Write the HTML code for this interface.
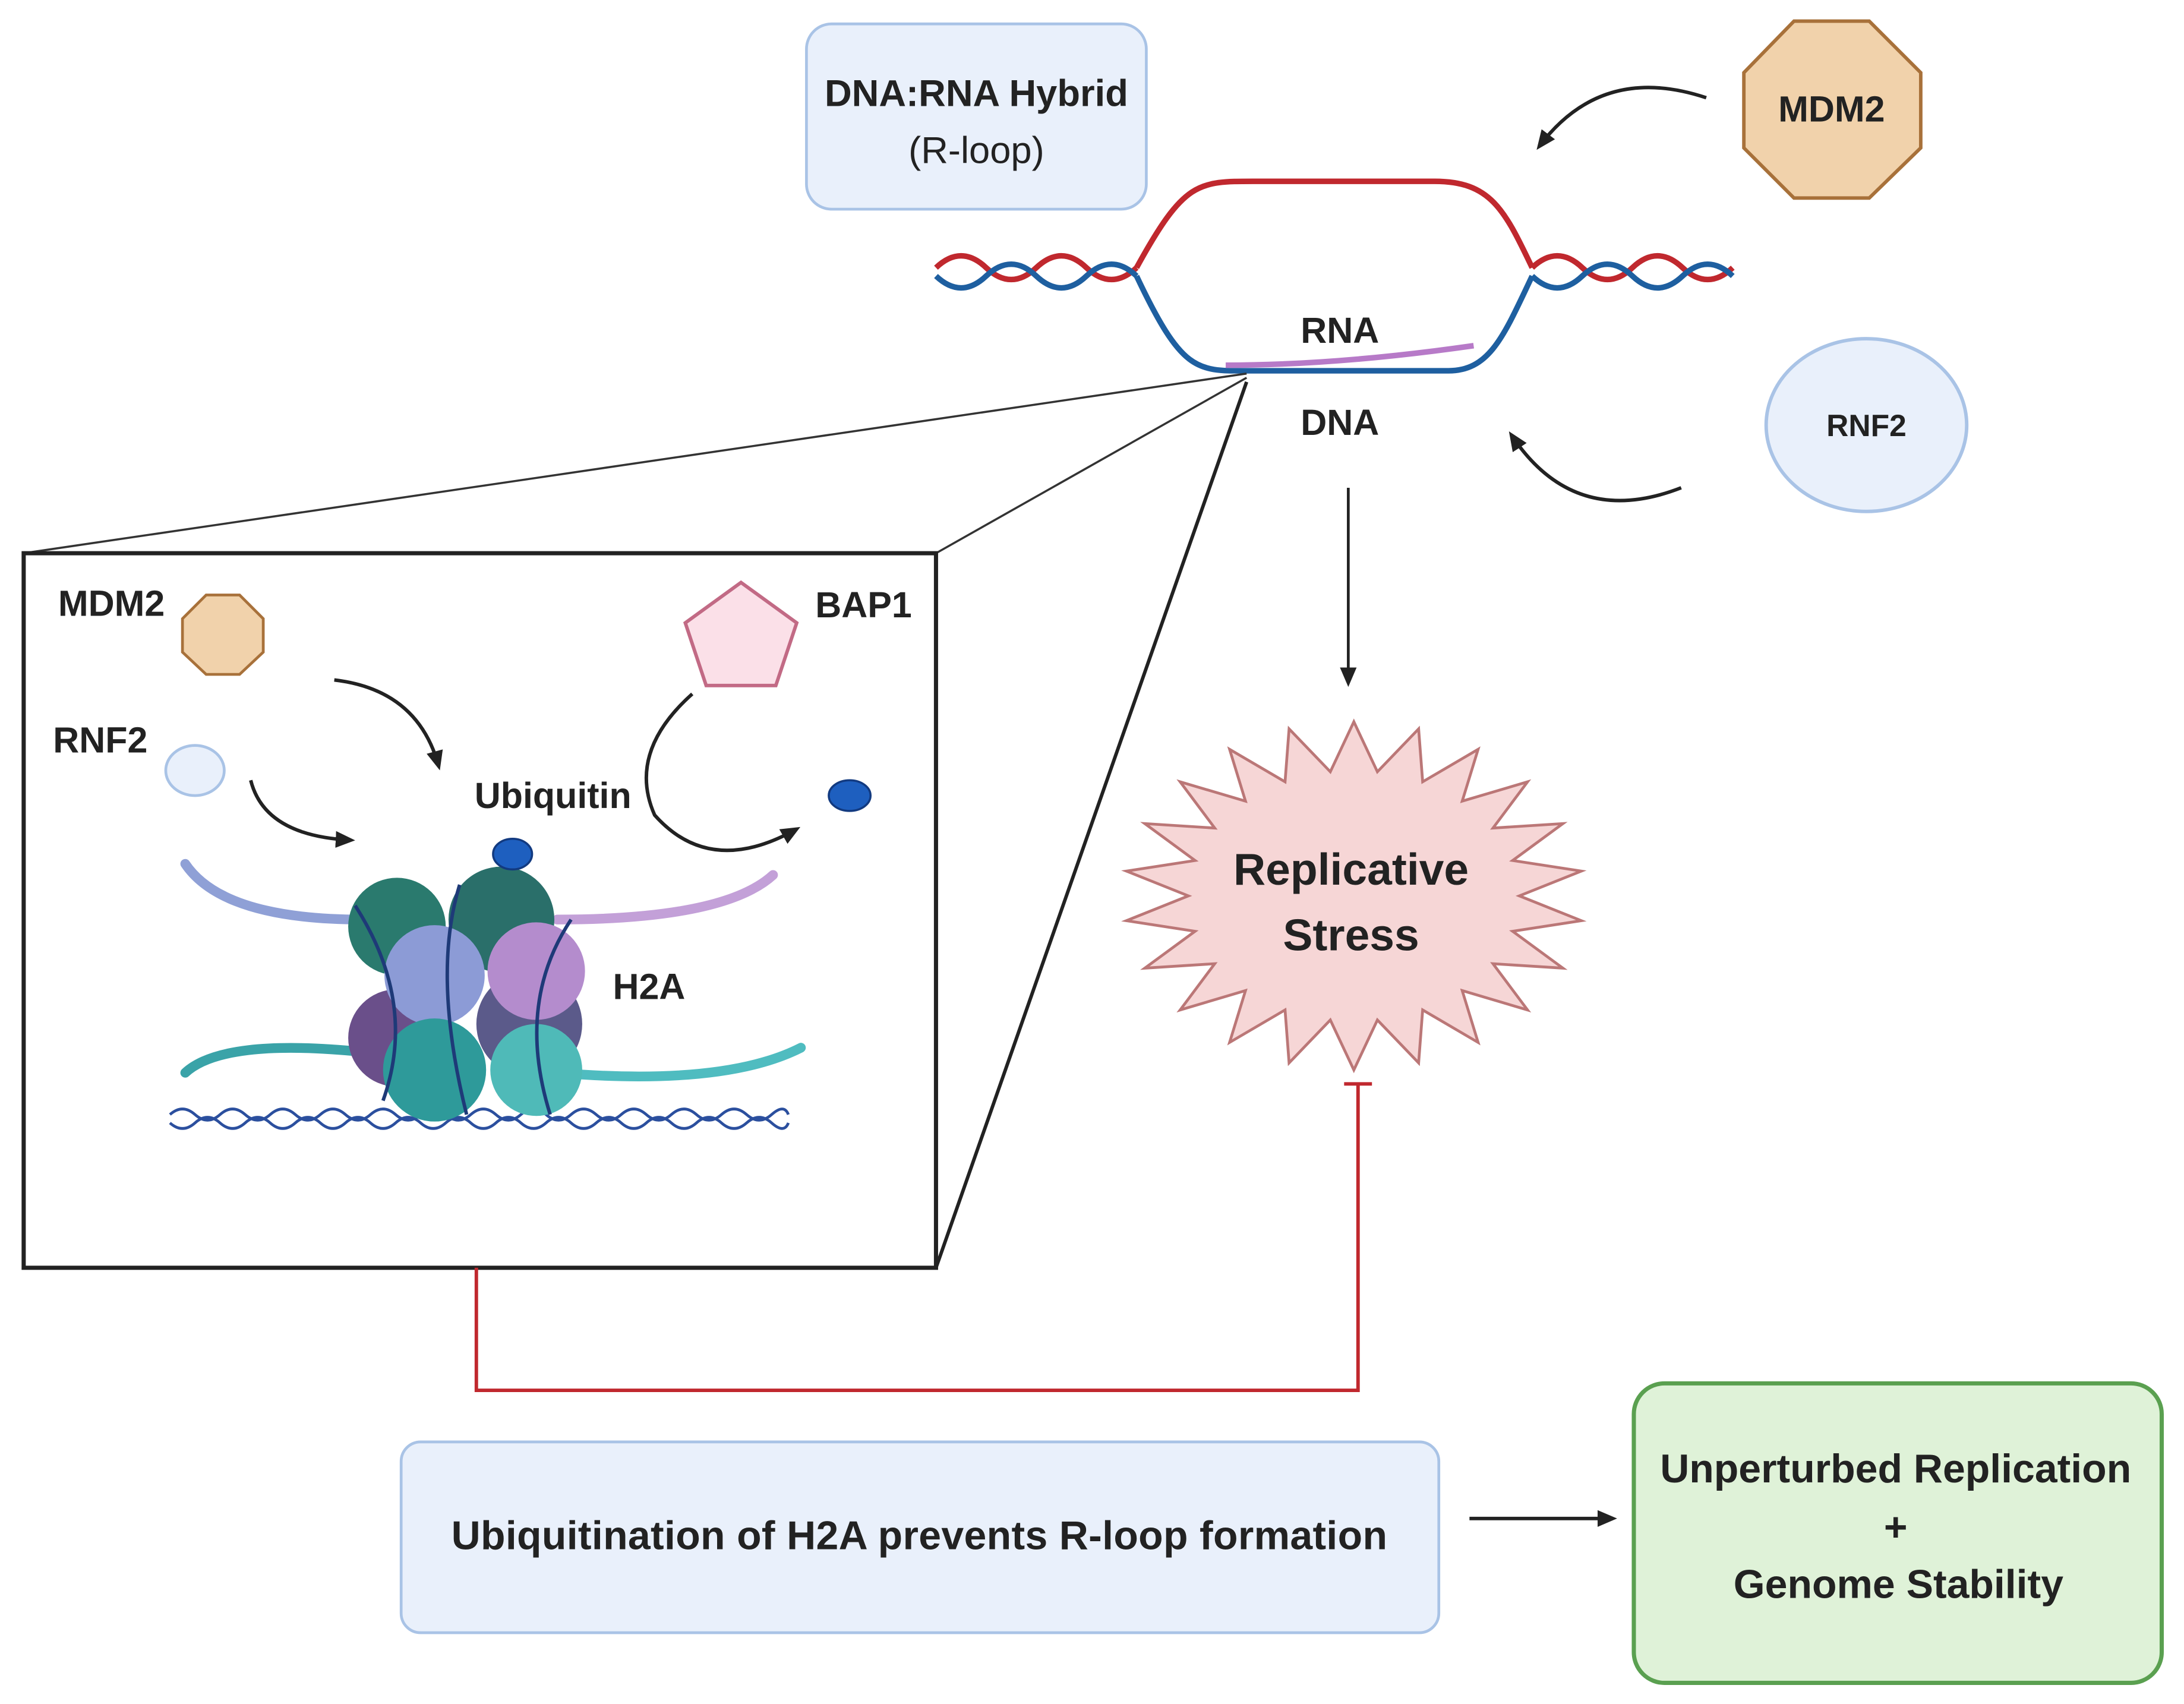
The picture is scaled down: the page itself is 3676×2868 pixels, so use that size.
<!DOCTYPE html>
<html><head><meta charset="utf-8"><style>html,body{margin:0;padding:0;background:#fff}svg{display:block}</style></head>
<body>
<svg width="3676" height="2868" viewBox="0 0 1568 1223" xmlns="http://www.w3.org/2000/svg" font-family="Liberation Sans, sans-serif" font-weight="bold">
<defs>
<marker id="ah" markerWidth="14" markerHeight="14" refX="11" refY="7" orient="auto" markerUnits="userSpaceOnUse"><path d="M0,1 L14,7 L0,13 z" fill="#222"/></marker>
</defs>
<rect width="1568" height="1223" fill="#fff"/>
<rect x="579" y="17" width="244" height="133" rx="18" fill="#e9f0fb" stroke="#a9c3e6" stroke-width="2"/>
<text x="701" y="76" font-size="27" text-anchor="middle" fill="#222">DNA:RNA Hybrid</text>
<text x="701" y="117" font-size="27" text-anchor="middle" fill="#222" font-weight="normal">(R-loop)</text>
<polygon points="1288,15 1342,15 1379,52 1379,106 1342,142 1288,142 1252,106 1252,52" fill="#f1d2ab" stroke="#a8713a" stroke-width="2.5"/>
<text x="1315" y="87" font-size="26" text-anchor="middle" fill="#222">MDM2</text>
<path d="M1225,70 Q1150,45 1105,105" fill="none" stroke="#222" stroke-width="2.5" marker-end="url(#ah)"/>
<path d="M672,192 Q690,175 708,192 T744,192 T780,192 T816,192" fill="none" stroke="#c0282e" stroke-width="4"/>
<path d="M672,198 Q690,215 708,198 T744,198 T780,198 T816,198" fill="none" stroke="#1e5fa0" stroke-width="4"/>
<path d="M1100,192 Q1118,175 1136,192 T1172,192 T1208,192 T1244,192" fill="none" stroke="#c0282e" stroke-width="4"/>
<path d="M1100,198 Q1118,215 1136,198 T1172,198 T1208,198 T1244,198" fill="none" stroke="#1e5fa0" stroke-width="4"/>
<path d="M816,192 C850,130 860,130 900,130 L1030,130 C1070,130 1080,150 1100,192" fill="none" stroke="#c0282e" stroke-width="4"/>
<path d="M816,198 C850,270 860,266 900,266 L1040,266 C1070,266 1080,240 1100,198" fill="none" stroke="#1e5fa0" stroke-width="4"/>
<path d="M880,262 Q960,262 1058,248" fill="none" stroke="#b77ac8" stroke-width="4"/>
<text x="962" y="246" font-size="26" text-anchor="middle" fill="#222">RNA</text>
<text x="962" y="312" font-size="26" text-anchor="middle" fill="#222">DNA</text>
<ellipse cx="1340" cy="305" rx="72" ry="62" fill="#e9f0fb" stroke="#a9c3e6" stroke-width="2.5"/>
<text x="1340" y="313" font-size="22" text-anchor="middle" fill="#222">RNF2</text>
<path d="M1207,350 Q1130,380 1085,312" fill="none" stroke="#222" stroke-width="2.5" marker-end="url(#ah)"/>
<line x1="968" y1="350" x2="968" y2="490" stroke="#222" stroke-width="2" marker-end="url(#ah)"/>
<polygon id="star" fill="#f6d6d6" stroke="#bb7777" stroke-width="2" points=""/>
<text x="970" y="635" font-size="32" text-anchor="middle" fill="#222">Replicative</text>
<text x="970" y="682" font-size="32" text-anchor="middle" fill="#222">Stress</text>
<line x1="17" y1="397" x2="895" y2="268" stroke="#333" stroke-width="1.5"/>
<line x1="672" y1="397" x2="895" y2="271" stroke="#333" stroke-width="1.5"/>
<line x1="672" y1="910" x2="895" y2="274" stroke="#222" stroke-width="2.5"/>
<rect x="17" y="397" width="655" height="513" fill="#fff" stroke="#222" stroke-width="3"/>
<text x="80" y="442" font-size="26" text-anchor="middle" fill="#222">MDM2</text>
<polygon points="148,427 172,427 189,444 189,468 172,484 148,484 131,468 131,444" fill="#f1d2ab" stroke="#a8713a" stroke-width="2"/>
<text x="72" y="540" font-size="26" text-anchor="middle" fill="#222">RNF2</text>
<ellipse cx="140" cy="553" rx="21" ry="18" fill="#e9f0fb" stroke="#a9c3e6" stroke-width="2"/>
<polygon points="532,418 572,447 557,492 507,492 492,447" fill="#fbe0e8" stroke="#c26a85" stroke-width="2.5"/>
<text x="620" y="443" font-size="26" text-anchor="middle" fill="#222">BAP1</text>
<text x="397" y="580" font-size="26" text-anchor="middle" fill="#222">Ubiquitin</text>
<path d="M240,488 Q300,495 315,550" fill="none" stroke="#222" stroke-width="2.5" marker-end="url(#ah)"/>
<path d="M180,560 Q190,600 252,603" fill="none" stroke="#222" stroke-width="2.5" marker-end="url(#ah)"/>
<path d="M497,498 Q450,540 470,585 Q510,630 572,595" fill="none" stroke="#222" stroke-width="2.5" marker-end="url(#ah)"/>
<ellipse cx="610" cy="571" rx="15" ry="11" fill="#1e5fbf" stroke="#123a80" stroke-width="1.5"/>
<path d="M133,620 Q160,660 260,660" fill="none" stroke="#8fa0d6" stroke-width="7" stroke-linecap="round"/>
<path d="M400,660 Q520,660 555,628" fill="none" stroke="#c3a0d8" stroke-width="7" stroke-linecap="round"/>
<path d="M133,770 Q160,745 260,755" fill="none" stroke="#3aa3a8" stroke-width="7" stroke-linecap="round"/>
<path d="M400,770 Q520,780 575,752" fill="none" stroke="#4fbcc0" stroke-width="7" stroke-linecap="round"/>
<path d="M122,800 Q131,792 140,800 T158,800 T176,800 T194,800 T212,800 T230,800 T248,800 T266,800 T284,800 T302,800 T320,800 T338,800 T356,800 T374,800 T392,800 T410,800 T428,800 T446,800 T464,800 T482,800 T500,800 T518,800 T536,800 T554,800 T566,800" fill="none" stroke="#2b4f9e" stroke-width="2"/>
<path d="M122,806 Q131,814 140,806 T158,806 T176,806 T194,806 T212,806 T230,806 T248,806 T266,806 T284,806 T302,806 T320,806 T338,806 T356,806 T374,806 T392,806 T410,806 T428,806 T446,806 T464,806 T482,806 T500,806 T518,806 T536,806 T554,806 T566,806" fill="none" stroke="#2b4f9e" stroke-width="2"/>
<circle cx="285" cy="665" r="35" fill="#2a7a6e"/>
<circle cx="360" cy="660" r="38" fill="#2a6f6a"/>
<circle cx="285" cy="745" r="35" fill="#6a4f8a"/>
<circle cx="380" cy="735" r="38" fill="#5b5a8a"/>
<circle cx="312" cy="700" r="36" fill="#8c9bd6"/>
<circle cx="385" cy="697" r="35" fill="#b48ccd"/>
<circle cx="312" cy="768" r="37" fill="#2e9a9a"/>
<circle cx="385" cy="768" r="33" fill="#4fbab8"/>
<path d="M330,635 Q310,700 335,800 M255,650 Q300,720 275,790 M410,660 Q370,720 395,800" fill="none" stroke="#1e3a78" stroke-width="2.5"/>
<ellipse cx="368" cy="613" rx="14" ry="11" fill="#1e5fbf" stroke="#123a80" stroke-width="1.5"/>
<text x="466" y="717" font-size="26" text-anchor="middle" fill="#222">H2A</text>
<path d="M342,910 L342,998 L975,998 L975,778" fill="none" stroke="#c0282e" stroke-width="2.5"/>
<line x1="965" y1="778" x2="985" y2="778" stroke="#c0282e" stroke-width="2.5"/>
<rect x="288" y="1035" width="745" height="137" rx="14" fill="#e9f0fb" stroke="#a9c3e6" stroke-width="2"/>
<text x="660" y="1112" font-size="29" text-anchor="middle" fill="#222" textLength="672">Ubiquitination of H2A prevents R-loop formation</text>
<line x1="1055" y1="1090" x2="1158" y2="1090" stroke="#222" stroke-width="2.5" marker-end="url(#ah)"/>
<rect x="1173" y="993" width="379" height="215" rx="22" fill="#dff2d8" stroke="#5aa050" stroke-width="3"/>
<text x="1361" y="1064" font-size="29" text-anchor="middle" fill="#222">Unperturbed Replication</text>
<text x="1361" y="1106" font-size="29" text-anchor="middle" fill="#222">+</text>
<text x="1363" y="1147" font-size="29" text-anchor="middle" fill="#222">Genome Stability</text>
<script>
var p=[],n=22,cx=972,cy=643;
for(var i=0;i<2*n;i++){var a=Math.PI*i/n-Math.PI/2;var ro=i%2==0?1:0.72;p.push((cx+165*ro*Math.cos(a)).toFixed(1)+','+(cy+125*ro*Math.sin(a)).toFixed(1));}
document.getElementById('star').setAttribute('points',p.join(' '));
</script>
</svg>
</body></html>
